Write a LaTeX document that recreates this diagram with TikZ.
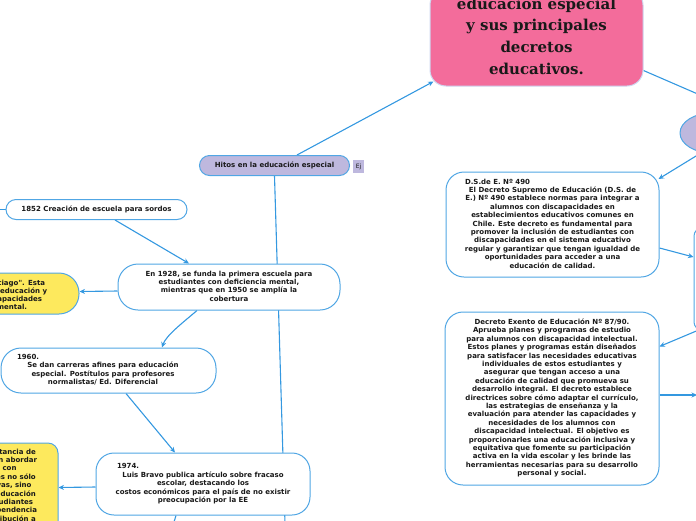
\documentclass[tikz,border=0pt]{standalone}
\usepackage{fontspec}
\usetikzlibrary{arrows.meta,calc,shapes.geometric}
\newfontfamily\mmsans{DejaVu Sans}
\newfontfamily\mmserif{DejaVu Serif}
\definecolor{lineblue}{RGB}{52,152,224}
\definecolor{bordblue}{RGB}{80,166,228}
\definecolor{pinkfill}{RGB}{243,108,155}
\definecolor{pinkbord}{RGB}{205,215,240}
\definecolor{yellowfill}{RGB}{253,233,93}
\definecolor{lavfill}{RGB}{190,184,222}
\definecolor{txt}{RGB}{25,25,25}
\newcommand{\mlc}[1]{\begin{tabular}{@{}c@{}}#1\end{tabular}}
\newcommand{\mlr}[1]{\begin{tabular}{@{}r@{}}#1\end{tabular}}
\pgfdeclarelayer{background}
\pgfsetlayers{background,main}
\tikzset{
  mmbox/.style={draw=bordblue, line width=1pt, fill=white, rounded corners=#1, inner sep=0pt, text=txt, font=\mmsans\bfseries\fontsize{7}{8.4}\selectfont},
  mmbox/.default=10pt,
  frag/.style={inner sep=0pt, text=txt, font=\mmsans\bfseries\fontsize{7}{8.4}\selectfont},
  conn/.style={draw=lineblue, line width=1.1pt},
  arr/.style={conn, -{Stealth[length=5.5pt,width=5pt]}},
}
\begin{document}
\begin{tikzpicture}[x=1pt,y=-1pt]
\useasboundingbox (0,0) rectangle (696,520);

% nodes
\node[mmbox=16pt, fill=pinkfill, draw=pinkbord, minimum width=213pt, minimum height=97pt,
      font=\mmserif\bfseries\fontsize{15}{21.7}\selectfont] (pink) at (536.5,37.5)
  {\mlc{educación especial\\y sus principales\\decretos\\educativos.}};

\node[mmbox=10pt, fill=lavfill, minimum width=150pt, minimum height=20pt] (hitos) at (274.5,165.5)
  {Hitos en la educación especial};
\node[fill=lavfill, minimum width=11pt, minimum height=13pt, inner sep=0pt,
      font=\mmsans\fontsize{6}{7}\selectfont, text=txt] (ej) at (358.5,166.5) {Ej};

\node[mmbox=10pt, minimum width=181pt, minimum height=20pt] (n1852) at (96.5,209.5)
  {1852 Creación de escuela para sordos};

\node[mmbox=20pt, fill=yellowfill, minimum width=139pt, minimum height=41pt] (y1) at (9.5,293.5) {};
\node[frag, font=\mmsans\bfseries\fontsize{7}{7.8}\selectfont, anchor=north east] (y1t) at (47.3,280)
  {\mlr{antiago". Esta\kern2pt\\ar educación y\\capacidades\kern5pt\\mental.\kern20pt}};

\node[mmbox=20pt, minimum width=222pt, minimum height=46pt] (n1928) at (229,287)
  {\mlc{En 1928, se funda la primera escuela para\\estudiantes con deficiencia mental,\\mientras que en 1950 se amplía la\\cobertura}};

\node[mmbox=20pt, minimum width=215pt, minimum height=45pt] (n1960) at (108.5,370.5)
  {\hspace*{-11pt}\mlc{\makebox[172pt][l]{1960.}\\Se dan carreras afines para educación\\especial. Postítulos para profesores\\normalistas/ Ed. Diferencial}};

\node[mmbox=18pt, minimum width=214pt, minimum height=62pt] (n1974) at (203,484)
  {\mlc{\makebox[172pt][l]{1974.}\\Luis Bravo publica artículo sobre fracaso\\escolar, destacando los\\costos económicos para el país de no existir\\preocupación por la EE}};

\node[mmbox=10pt, fill=yellowfill, minimum width=138pt, minimum height=127pt] (y2) at (-11,506.5) {};
\node[frag, anchor=north east] (y2t) at (37.3,448.1)
  {\mlr{ortancia de\kern1.3pt\\en abordar\\s con\kern20.6pt\\es no sólo\kern1.3pt\\vas, sino\kern5.6pt\\educación\kern1.3pt\\studiantes\kern4pt\\ependencia\\tribución a\kern1.3pt}};

\node[mmbox=18pt, minimum width=213pt, minimum height=105pt] (ds) at (552.5,224.5)
  {\mlc{\makebox[175pt][l]{D.S.de E. Nº 490}\\El Decreto Supremo de Educación (D.S. de\\E.) Nº 490 establece normas para integrar a\\alumnos con discapacidades en\\establecimientos educativos comunes en\\Chile. Este decreto es fundamental para\\promover la inclusión de estudiantes con\\discapacidades en el sistema educativo\\regular y garantizar que tengan igualdad de\\oportunidades para acceder a una\\educación de calidad.}};

\node[mmbox=18pt, minimum width=214pt, minimum height=173pt] (dec) at (552,398.5)
  {\mlc{Decreto Exento de Educación Nº 87/90.\\Aprueba planes y programas de estudio\\para alumnos con discapacidad intelectual.\\Estos planes y programas están diseñados\\para satisfacer las necesidades educativas\\individuales de estos estudiantes y\\asegurar que tengan acceso a una\\educación de calidad que promueva su\\desarrollo integral. El decreto establece\\directrices sobre cómo adaptar el currículo,\\las estrategias de enseñanza y la\\evaluación para atender las capacidades y\\necesidades de los alumnos con\\discapacidad intelectual. El objetivo es\\proporcionarles una educación inclusiva y\\equitativa que fomente su participación\\activa en la vida escolar y les brinde las\\herramientas necesarias para su desarrollo\\personal y social.}};

\node[ellipse, draw=bordblue, line width=1pt, fill=lavfill, minimum width=64pt, minimum height=40pt] (ell) at (712,133) {};
\node[mmbox=8pt, minimum width=106pt, minimum height=102pt] (rbox) at (747,279) {};

\coordinate (offR1) at (760,121);
\coordinate (offR2) at (697,395);
\coordinate (offB) at (285.5,540);
\coordinate (offL) at (-20,209.5);
\coordinate (offB2) at (170,535);

\begin{pgfonlayer}{background}
\draw[arr] ($(hitos.north)+(22.5,0)$) -- ($(pink.south west)+(4,-5)$);
\draw[conn] ($(pink.south east)+(0,-16)$) -- (offR1);
\draw[arr] ($(ell.center)+(2,12)$) -- ($(ds.north east)+(-1,7.5)$);
\draw[arr] ($(ds.east)+(0,23.5)$) -- ($(rbox.west)+(0,-22)$);
\draw[arr] ($(rbox.south west)+(4,0)$) -- ($(dec.north east)+(0,35)$);
\draw[arr] ($(dec.east)+(0,-3.5)$) -- (offR2);
\draw[conn] (hitos.south) -- (offB);
\draw[conn] (offL) -- (n1852.west);
\draw[arr] ($(n1852.south)+(18.5,0)$) -- ($(n1928.north)+(-40,0)$);
\draw[arr] ($(n1928.west)+(0,4)$) -- ($(y1.east)+(0,-2)$);
\draw[arr] ($(n1928.south)+(-32,0)$) .. controls +(-14,12) and +(4,-12) .. ($(n1960.north)+(53.5,0)$);
\draw[arr] ($(n1960.south)+(17.5,0)$) -- ($(n1974.north)+(-28,0)$);
\draw[arr] ($(n1974.west)+(0,3)$) -- ($(y2.east)+(0,-19)$);
\draw[conn] ($(n1974.south)+(-27,0)$) -- (offB2);
\end{pgfonlayer}
\end{tikzpicture}
\end{document}
